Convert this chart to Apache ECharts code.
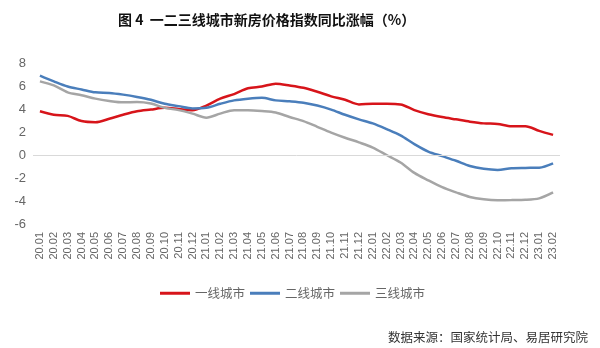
<!DOCTYPE html>
<html>
<head>
<meta charset="utf-8">
<script src="https://cdn.jsdelivr.net/npm/echarts@6/dist/echarts.min.js"></script>
<style>html,body{margin:0;padding:0;background:#fff}#c{width:600px;height:348px}</style>
</head>
<body>
<div id="c"></div>
<script>
const categories = ['20.01','20.02','20.03','20.04','20.05','20.06','20.07','20.08','20.09','20.10','20.11','20.12',
  '21.01','21.02','21.03','21.04','21.05','21.06','21.07','21.08','21.09','21.10','21.11','21.12',
  '22.01','22.02','22.03','22.04','22.05','22.06','22.07','22.08','22.09','22.10','22.11','22.12',
  '23.01','23.02'];
const tier1 = [3.8,3.5,3.4,2.95,2.85,3.15,3.5,3.8,3.95,4.1,4.0,3.9,
  4.3,4.9,5.3,5.8,5.95,6.2,6.05,5.85,5.5,5.1,4.8,4.4,
  4.45,4.45,4.4,3.9,3.55,3.3,3.1,2.9,2.75,2.7,2.5,2.5,
  2.1,1.75];
const tier2 = [6.9,6.4,5.95,5.7,5.45,5.4,5.25,5.05,4.8,4.45,4.25,4.05,
  4.1,4.45,4.75,4.9,4.98,4.75,4.67,4.55,4.3,3.95,3.5,3.1,
  2.75,2.25,1.7,0.95,0.3,-0.1,-0.5,-0.95,-1.2,-1.3,-1.15,-1.12,
  -1.1,-0.72];
const tier3 = [6.4,6.05,5.45,5.2,4.9,4.7,4.58,4.6,4.47,4.1,3.9,3.6,
  3.25,3.6,3.9,3.9,3.83,3.7,3.3,2.95,2.45,1.95,1.5,1.1,
  0.65,0.0,-0.65,-1.55,-2.2,-2.8,-3.25,-3.65,-3.85,-3.93,-3.92,-3.9,
  -3.77,-3.25];
const yTicks = {min:-6, max:8, interval:2};

const chart = echarts.init(document.getElementById('c'));
const mkSeries = (name, data, color, extra) => Object.assign({
  name, type:'line', data, smooth:0.3, symbol:'none',
  lineStyle:{color, width:2.5}, itemStyle:{color}
}, extra || {});
chart.setOption({
  animation:false,
  title:{
    text:'图 4  一二三线城市新房价格指数同比涨幅（%）',
    left:113, top:8,
    textStyle:{fontFamily:'Noto Sans CJK SC', fontSize:14, fontWeight:'bold', color:'#111'}
  },
  graphic:[{
    type:'text', right:12, top:331,
    style:{text:'数据来源：国家统计局、易居研究院', font:'12.5px "Noto Sans CJK SC"', fill:'#333'}
  }],
  legend:{
    top:282, left:155,
    itemWidth:30, itemHeight:3, itemGap:5,
    icon:'rect',
    textStyle:{fontFamily:'Noto Sans CJK SC', fontSize:12.5, color:'#666'},
    data:['一线城市','二线城市','三线城市']
  },
  grid:{left:33, right:40, top:63, bottom:124},
  xAxis:{
    type:'category', data:categories, boundaryGap:true,
    axisLine:{show:false}, axisTick:{show:false},
    axisLabel:{rotate:90, interval:0, margin:8, color:'#666', fontSize:11, fontFamily:'Liberation Sans'}
  },
  yAxis:{
    type:'value', min:yTicks.min, max:yTicks.max, interval:yTicks.interval,
    axisLine:{show:false}, axisTick:{show:false}, splitLine:{show:false},
    axisLabel:{margin:7, color:'#666', fontSize:13, fontFamily:'Liberation Sans'}
  },
  series:[
    mkSeries('一线城市', tier1, '#d7141a', {
      markLine:{silent:true, symbol:'none', label:{show:false},
        lineStyle:{color:'#d9d9d9', width:1, type:'solid'}, data:[{yAxis:0}]}
    }),
    mkSeries('二线城市', tier2, '#4a7ebb'),
    mkSeries('三线城市', tier3, '#a5a5a5')
  ]
});
</script>
</body>
</html>
